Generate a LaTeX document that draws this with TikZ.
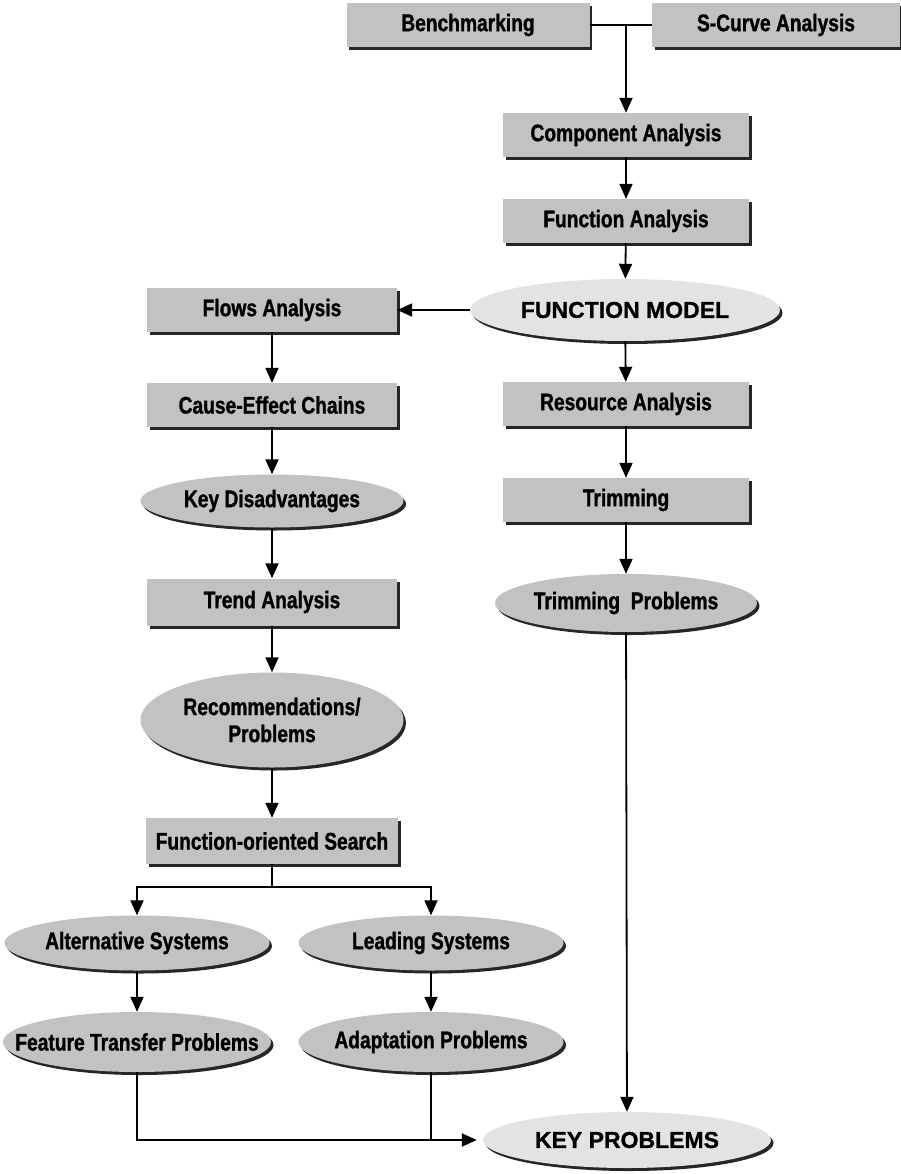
\documentclass[tikz,border=0pt]{standalone}
\usepackage{fontspec}
\usepackage{mathtools}
\usepackage{tikz}
\usetikzlibrary{positioning,shapes,shadows,arrows.meta}
\newfontfamily\condfont{Liberation Sans Bold}[FakeStretch=0.8,FakeBold=1.2]
\newfontfamily\widefont{Liberation Sans Bold}[FakeBold=1]
\definecolor{boxgray}{gray}{0.76}
\definecolor{ovallight}{gray}{0.89}

\begin{document}
\begin{tikzpicture}[x=1pt,y=-1pt,
  box/.style={rectangle, fill=boxgray, minimum width=246pt, minimum height=44pt, inner sep=0pt,
    font=\condfont\fontsize{24}{27}\selectfont,
    drop shadow={shadow xshift=2.5pt, shadow yshift=-3pt, fill=black!85, opacity=1}},
  oval/.style={ellipse, fill=boxgray, inner sep=0pt, align=center,
    font=\condfont\fontsize{24}{27}\selectfont,
    drop shadow={shadow xshift=2.5pt, shadow yshift=-3pt, fill=black!85, opacity=1}},
  bigoval/.style={oval, fill=ovallight, font=\widefont\fontsize{23}{27}\selectfont},
  wire/.style={line width=1.8pt},
  arr/.style={wire, -{Triangle[width=13pt,length=15pt]}}]
\useasboundingbox (0,0) rectangle (901,1174);

% right column
\node[box, minimum width=243pt] (bench) at (468,25) {Benchmarking};
\node[box, minimum width=248pt] (scurve) at (776,25) {S-Curve Analysis};
\node[box] (comp) at (626,135) {Component Analysis};
\node[box] (func) at (626,221) {Function Analysis};
\node[bigoval, minimum width=310pt, minimum height=62pt] (fmodel) at (625,310) {\clap{FUNCTION MODEL}};
\node[box] (res) at (626,404) {Resource Analysis};
\node[box] (trim) at (626,500) {Trimming};
\node[oval, minimum width=262pt, minimum height=58pt] (trimp) at (626,603) {\clap{Trimming\ \ Problems}};

% left column
\node[box, minimum width=250pt] (flows) at (272,310) {Flows Analysis};
\node[box, minimum width=250pt] (cause) at (272,405) {Cause-Effect Chains};
\node[oval, minimum width=263pt, minimum height=53pt] (keydis) at (272,501) {\clap{Key Disadvantages}};
\node[box, minimum width=250pt, minimum height=47pt] (trend) at (272,602) {Trend Analysis};
\node[oval, minimum width=263pt, minimum height=95pt] (recom) at (272,720) {\clap{Recommendations/}\\\clap{Problems}};
\node[box, minimum width=252pt, minimum height=46pt] (fos) at (272,841) {Function-oriented Search};

% bottom
\node[oval, minimum width=265pt, minimum height=55pt] (alt) at (137,943) {\clap{Alternative Systems}};
\node[oval, minimum width=265pt, minimum height=55pt] (lead) at (431,943) {\clap{Leading Systems}};
\node[oval, minimum width=268pt, minimum height=60pt] (feat) at (137,1042) {\clap{Feature Transfer Problems}};
\node[oval, minimum width=265pt, minimum height=60pt] (adapt) at (431,1042) {\clap{Adaptation Problems}};
\node[bigoval, minimum width=288pt, minimum height=56pt] (keyprob) at (627,1140) {\clap{KEY PROBLEMS}};

% connectors
\draw[wire] (bench.east) -- (scurve.west);
\draw[arr] (bench.east -| comp.north) -- (comp.north);
\draw[arr] (comp) -- (func);
\draw[arr] (func) -- (fmodel);
\draw[arr] (fmodel) -- (res);
\draw[arr] (res) -- (trim);
\draw[arr] (trim) -- (trimp);
\draw[arr] (fmodel.west) -- (flows.east);
\draw[arr] (flows) -- (cause);
\draw[arr] (cause) -- (keydis);
\draw[arr] (keydis) -- (trend);
\draw[arr] (trend) -- (recom);
\draw[arr] (recom) -- (fos);
\path (fos.south) ++(0,23) coordinate (fork);
\draw[wire] (fos.south) -- (fork);
\draw[arr] (fork) -| (alt.north);
\draw[arr] (fork) -| (lead.north);
\draw[arr] (alt) -- (feat);
\draw[arr] (lead) -- (adapt);
\draw[arr] (trimp) -- (keyprob);
\draw[arr] (feat.south) |- ([xshift=-6pt]keyprob.west);
\draw[wire] (adapt.south) -- (adapt.south |- keyprob.west);
\end{tikzpicture}
\end{document}
